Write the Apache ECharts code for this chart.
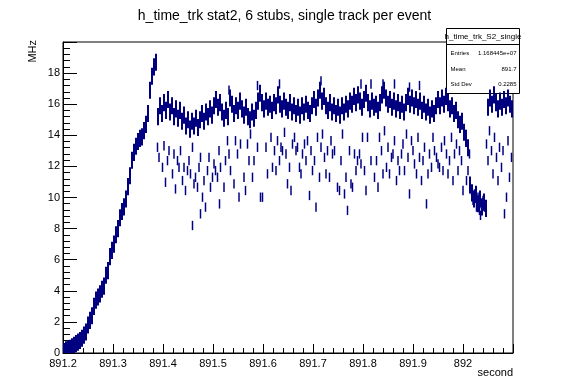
<!DOCTYPE html>
<html>
<head>
<meta charset="utf-8">
<script src="https://cdn.jsdelivr.net/npm/echarts@6/dist/echarts.min.js"></script>
<style>
  html, body { margin: 0; padding: 0; background: #fff; }
  #chart { width: 569px; height: 381px; }
</style>
</head>
<body>
<div id="chart"></div>
<script>
// histogram h_time_trk_S2_single, bins of 4 ms starting at 891.2 s
const binStart = 891.2
const binWidth = 0.004
const rateErr = 0.55
// MHz per bin (main band)
const rate = [
  0.1, 0.2, 0.25, 0.3, 0.4, 0.5, 0.6, 0.7, 0.8, 0.95,
  1.15, 1.35, 1.8, 2.1, 2.4, 3.0, 3.4, 3.6, 3.8, 4.1,
  4.3, 5.0, 5.3, 6.2, 6.6, 7.0, 7.6, 8.0, 8.7, 9.1,
  9.4, 9.9, 10.7, 11.4, 12.4, 12.9, 13.3, 13.6, 13.8, 13.9,
  14.3, 14.7, 15.4, 16.9, 17.8, 18.4, 18.7,
  15.2, 15.9, 15.4, 16.1, 15.6, 16.3, 15.5, 15.9, 15.2, 15.7,
  15.1, 15.6, 14.9, 15.3, 14.6, 15.0, 14.4, 14.9, 14.6, 15.1,
  14.5, 15.0, 15.4, 14.9, 15.5, 15.2, 15.7, 15.3, 15.9, 16.3,
  15.8, 16.1, 15.5, 15.1, 15.6, 15.2, 16.4, 16.0, 15.4, 15.9,
  15.6, 16.2, 15.7, 15.3, 15.8, 15.2, 15.0, 15.5, 15.1, 15.6,
  16.2, 16.7, 16.1, 15.7, 16.2, 15.8, 16.0, 15.6, 16.1, 15.9,
  16.6, 16.0, 15.7, 16.2, 15.8, 15.6, 16.1, 15.5, 15.9, 15.4,
  15.8, 15.3, 15.9, 15.5, 16.0, 15.6, 15.4, 15.9, 16.3, 15.8,
  16.4, 16.9, 16.2, 16.5, 15.9, 15.6, 16.1, 15.5, 15.9, 15.4,
  15.8, 15.3, 15.9, 15.5, 16.0, 15.7, 16.2, 16.0, 16.5, 16.1,
  16.6, 16.2, 15.8, 16.3, 16.7, 16.1, 15.7, 16.2, 15.8, 16.0,
  15.6, 16.1, 16.6, 16.9, 16.4, 16.0, 16.3, 15.8, 16.2, 15.7,
  16.1, 15.6, 16.0, 15.5, 16.1, 16.5, 16.0, 16.4, 15.9, 16.3,
  15.8, 16.2, 15.6, 16.0, 15.5, 15.8, 15.3, 15.7, 15.4, 15.9,
  16.3, 15.9, 16.4, 16.0, 16.5, 16.1, 15.7, 15.9, 15.4, 15.6,
  15.0, 14.7, 14.9, 14.2, 13.8, 13.2, 10.8, 10.3, 9.9, 10.2,
  9.6, 9.9, 9.4, 9.7, 9.3, 15.8, 16.4, 16.0, 16.6, 16.1,
  15.7, 16.2, 15.8, 16.3, 15.9, 16.4, 16.0, 15.7
]

// scattered bins off the main band
const sparseErr = 0.3
const sparseTime = [
  891.389, 891.392, 891.399, 891.402, 891.405, 891.409, 891.412, 891.419, 891.422, 891.425,
  891.429, 891.432, 891.435, 891.439, 891.442, 891.445, 891.449, 891.452, 891.455, 891.459,
  891.459, 891.462, 891.465, 891.469, 891.472, 891.475, 891.475, 891.479, 891.482, 891.485,
  891.489, 891.492, 891.495, 891.499, 891.502, 891.505, 891.509, 891.512, 891.513, 891.515,
  891.522, 891.525, 891.529, 891.532, 891.535, 891.542, 891.545, 891.549, 891.552, 891.555,
  891.562, 891.565, 891.569, 891.572, 891.575, 891.579, 891.582, 891.589, 891.595,
  891.599, 891.606, 891.609, 891.616, 891.619, 891.623, 891.626, 891.629, 891.633, 891.636,
  891.639, 891.643, 891.646, 891.649, 891.653, 891.656, 891.659, 891.663, 891.666, 891.669,
  891.673, 891.676, 891.679, 891.683, 891.686, 891.689, 891.693, 891.696, 891.699, 891.703,
  891.706, 891.709, 891.713, 891.716, 891.719, 891.723, 891.726, 891.729, 891.733, 891.736,
  891.739, 891.743, 891.749, 891.753, 891.756, 891.759, 891.763, 891.766, 891.769, 891.773,
  891.776, 891.779, 891.783, 891.786, 891.789, 891.793, 891.796, 891.799, 891.803, 891.806,
  891.809, 891.816, 891.823,
  891.827, 891.830, 891.833, 891.837, 891.840, 891.843, 891.847, 891.850, 891.853, 891.857,
  891.860, 891.863, 891.867, 891.870, 891.873, 891.877, 891.880, 891.883, 891.887, 891.890,
  891.893, 891.897, 891.900, 891.903, 891.907, 891.910, 891.913, 891.917, 891.920, 891.923,
  891.927, 891.930, 891.933, 891.937, 891.940, 891.943, 891.947, 891.950, 891.953, 891.957,
  891.960, 891.963, 891.967, 891.970, 891.973, 891.977, 891.980, 891.983, 891.987, 891.990,
  891.993, 891.997, 892.000, 892.003, 892.007, 892.010, 892.013,
  892.017, 892.020, 892.023, 892.027, 892.030, 892.033, 892.037, 892.040, 892.043, 892.035,
  892.047, 892.050, 892.053, 892.057, 892.060, 892.063, 892.067, 892.070, 892.073, 892.077,
  892.080, 892.083, 892.087, 892.090, 892.093, 892.097,
  891.532, 891.589, 891.633, 891.716, 891.796, 891.816, 891.840, 891.863, 891.893, 891.913
]
const sparseRate = [
  13.23, 12.58, 11.94, 13.33, 10.98, 12.37, 13.01, 11.52, 12.80, 10.55,
  12.37, 11.94, 13.01, 11.09, 11.94, 10.45, 11.73, 12.37, 11.52, 13.23,
  8.20, 10.88, 11.30, 10.66, 11.94, 12.58, 8.95, 10.02, 11.09, 9.38,
  11.73, 12.58, 10.66, 11.30, 12.16, 11.73, 11.30, 13.01, 9.59, 11.94,
  10.66, 12.37, 13.65, 12.80, 11.73, 10.88, 13.65, 12.80, 10.02, 13.44,
  11.30, 10.45, 13.44, 12.37, 14.08, 11.30, 12.37, 13.23, 10.02,
  10.02, 13.23, 11.52, 13.87, 11.94, 13.01, 11.73, 13.65, 12.37, 13.23,
  13.01, 14.19, 12.80, 10.88, 11.94, 10.45, 13.44, 13.87, 13.01, 13.23,
  11.94, 11.52, 12.80, 13.44, 12.37, 13.65, 10.13, 13.01, 11.73, 12.37,
  9.38, 13.87, 11.30, 13.23, 14.08, 12.58, 11.52, 13.01, 11.30, 13.65,
  12.80, 13.01, 10.66, 10.45, 12.37, 14.08, 10.23, 11.30, 9.17, 13.01,
  10.88, 10.66, 12.80, 11.73, 12.37, 12.80, 12.16, 13.87, 11.73, 10.45,
  13.87, 12.37, 11.30,
  12.37, 10.66, 13.87, 13.01, 11.52, 14.29, 11.94, 13.23, 11.52, 12.58,
  12.80, 13.65, 11.09, 12.37, 11.73, 12.80, 13.44, 11.73, 14.08, 12.58,
  10.23, 13.65, 13.01, 12.16, 11.52, 13.87, 12.58, 11.09, 12.37, 13.23,
  9.59, 11.52, 12.80, 11.94, 13.87, 13.01, 12.58, 12.16, 11.94, 13.23,
  11.73, 13.65, 12.80, 11.52, 12.37, 13.87, 11.09, 12.80, 13.44, 11.73,
  13.01, 12.37, 10.45, 14.08, 11.09, 11.73, 12.80,
  10.45, 9.81, 10.23, 9.38, 10.02, 9.17, 9.59, 9.81, 9.38, 8.85,
  13.44, 12.37, 14.29, 13.01, 11.52, 13.87, 12.58, 11.09, 13.23, 11.94,
  13.01, 8.95, 10.02, 13.65, 11.30, 12.58,
  16.9, 17.2, 17.3, 17.5, 17.3, 17.3, 17.3, 17.3, 17.1, 17.2
]

const xTicks = { min: 891.2, max: 892.1, step: 0.1 }
const yTicks = { min: 0, max: 20, step: 2 }

const lineColor = '#000080'
const font = 'Liberation Sans, Arial, Helvetica, sans-serif'

const mainData = rate.map((v, i) => [binStart + binWidth * (i + 0.5), v, rateErr])
const sparseData = sparseTime.map((t, i) => [t, sparseRate[i], sparseErr])

function errorBar (width) {
  return function (params, api) {
    const x = api.value(0)
    const y = api.value(1)
    const e = api.value(2)
    const top = api.coord([x, y + e])
    const bot = api.coord([x, y - e])
    return {
      type: 'line',
      shape: { x1: top[0], y1: top[1], x2: bot[0], y2: bot[1] },
      style: { stroke: lineColor, lineWidth: width }
    }
  }
}

const chart = echarts.init(document.getElementById('chart'))

chart.setOption({
  animation: false,
  backgroundColor: '#fff',
  title: {
    text: 'h_time_trk stat2, 6 stubs, single track per event',
    left: 'center',
    top: 4,
    textStyle: { fontFamily: font, fontSize: 14, fontWeight: 'normal', color: '#000' }
  },
  grid: {
    left: 63, right: 56, top: 42, bottom: 28,
    show: true, borderColor: '#000', borderWidth: 1, backgroundColor: '#fff'
  },
  xAxis: {
    type: 'value',
    min: xTicks.min,
    max: xTicks.max,
    interval: xTicks.step,
    splitLine: { show: false },
    axisLine: { lineStyle: { color: '#000' } },
    axisTick: { inside: true, length: 9, lineStyle: { color: '#000' } },
    minorTick: { show: true, splitNumber: 5, length: 5, lineStyle: { color: '#000' } },
    axisLabel: {
      color: '#000', fontFamily: font, fontSize: 11, margin: 5,
      showMaxLabel: false,
      formatter: v => (Math.abs(v - 892) < 1e-6 ? '892' : (v > 892.05 ? '' : v.toFixed(1)))
    }
  },
  yAxis: {
    type: 'value',
    min: yTicks.min,
    max: yTicks.max,
    interval: yTicks.step,
    splitLine: { show: false },
    axisLine: { lineStyle: { color: '#000' } },
    axisTick: { inside: true, length: 14, lineStyle: { color: '#000' } },
    minorTick: { show: true, splitNumber: 5, length: 7, lineStyle: { color: '#000' } },
    axisLabel: {
      color: '#000', fontFamily: font, fontSize: 11, margin: 3,
      formatter: v => (v >= yTicks.max ? '' : String(v))
    }
  },
  graphic: [
    {
      type: 'text', left: 27, top: 40, rotation: Math.PI / 2,
      style: { text: 'MHz', fontFamily: font, fontSize: 11, fill: '#000' }
    },
    {
      type: 'text', right: 56, top: 367,
      style: { text: 'second', fontFamily: font, fontSize: 11, fill: '#000' }
    },
    {
      type: 'group', left: 444, top: 28, z: 100,
      children: [
        { type: 'rect', shape: { x: 0, y: 0, width: 73, height: 65 },
          style: { fill: '#fff', stroke: '#000', lineWidth: 1 } },
        { type: 'line', shape: { x1: 0, y1: 16, x2: 73, y2: 16 },
          style: { stroke: '#000', lineWidth: 1 } },
        { type: 'text', x: 36.5, y: 8.5,
          style: { text: 'h_time_trk_S2_single', fontFamily: font, fontSize: 8, fill: '#000', align: 'center', verticalAlign: 'middle' } },
        { type: 'text', x: 4, y: 25,
          style: { text: 'Entries', fontFamily: font, fontSize: 6, fill: '#000', verticalAlign: 'middle' } },
        { type: 'text', x: 70, y: 25,
          style: { text: '1.168445e+07', fontFamily: font, fontSize: 6, fill: '#000', align: 'right', verticalAlign: 'middle' } },
        { type: 'text', x: 4, y: 41,
          style: { text: 'Mean', fontFamily: font, fontSize: 6, fill: '#000', verticalAlign: 'middle' } },
        { type: 'text', x: 70, y: 41,
          style: { text: '891.7', fontFamily: font, fontSize: 6, fill: '#000', align: 'right', verticalAlign: 'middle' } },
        { type: 'text', x: 4, y: 56,
          style: { text: 'Std Dev', fontFamily: font, fontSize: 6, fill: '#000', verticalAlign: 'middle' } },
        { type: 'text', x: 70, y: 56,
          style: { text: '0.2285', fontFamily: font, fontSize: 6, fill: '#000', align: 'right', verticalAlign: 'middle' } }
      ]
    }
  ],
  series: [
    {
      name: 'band',
      type: 'custom',
      clip: true,
      renderItem: errorBar(2),
      encode: { x: 0, y: 1 },
      data: mainData
    },
    {
      name: 'sparse',
      type: 'custom',
      clip: true,
      renderItem: errorBar(1.5),
      encode: { x: 0, y: 1 },
      data: sparseData
    }
  ]
})
</script>
</body>
</html>
